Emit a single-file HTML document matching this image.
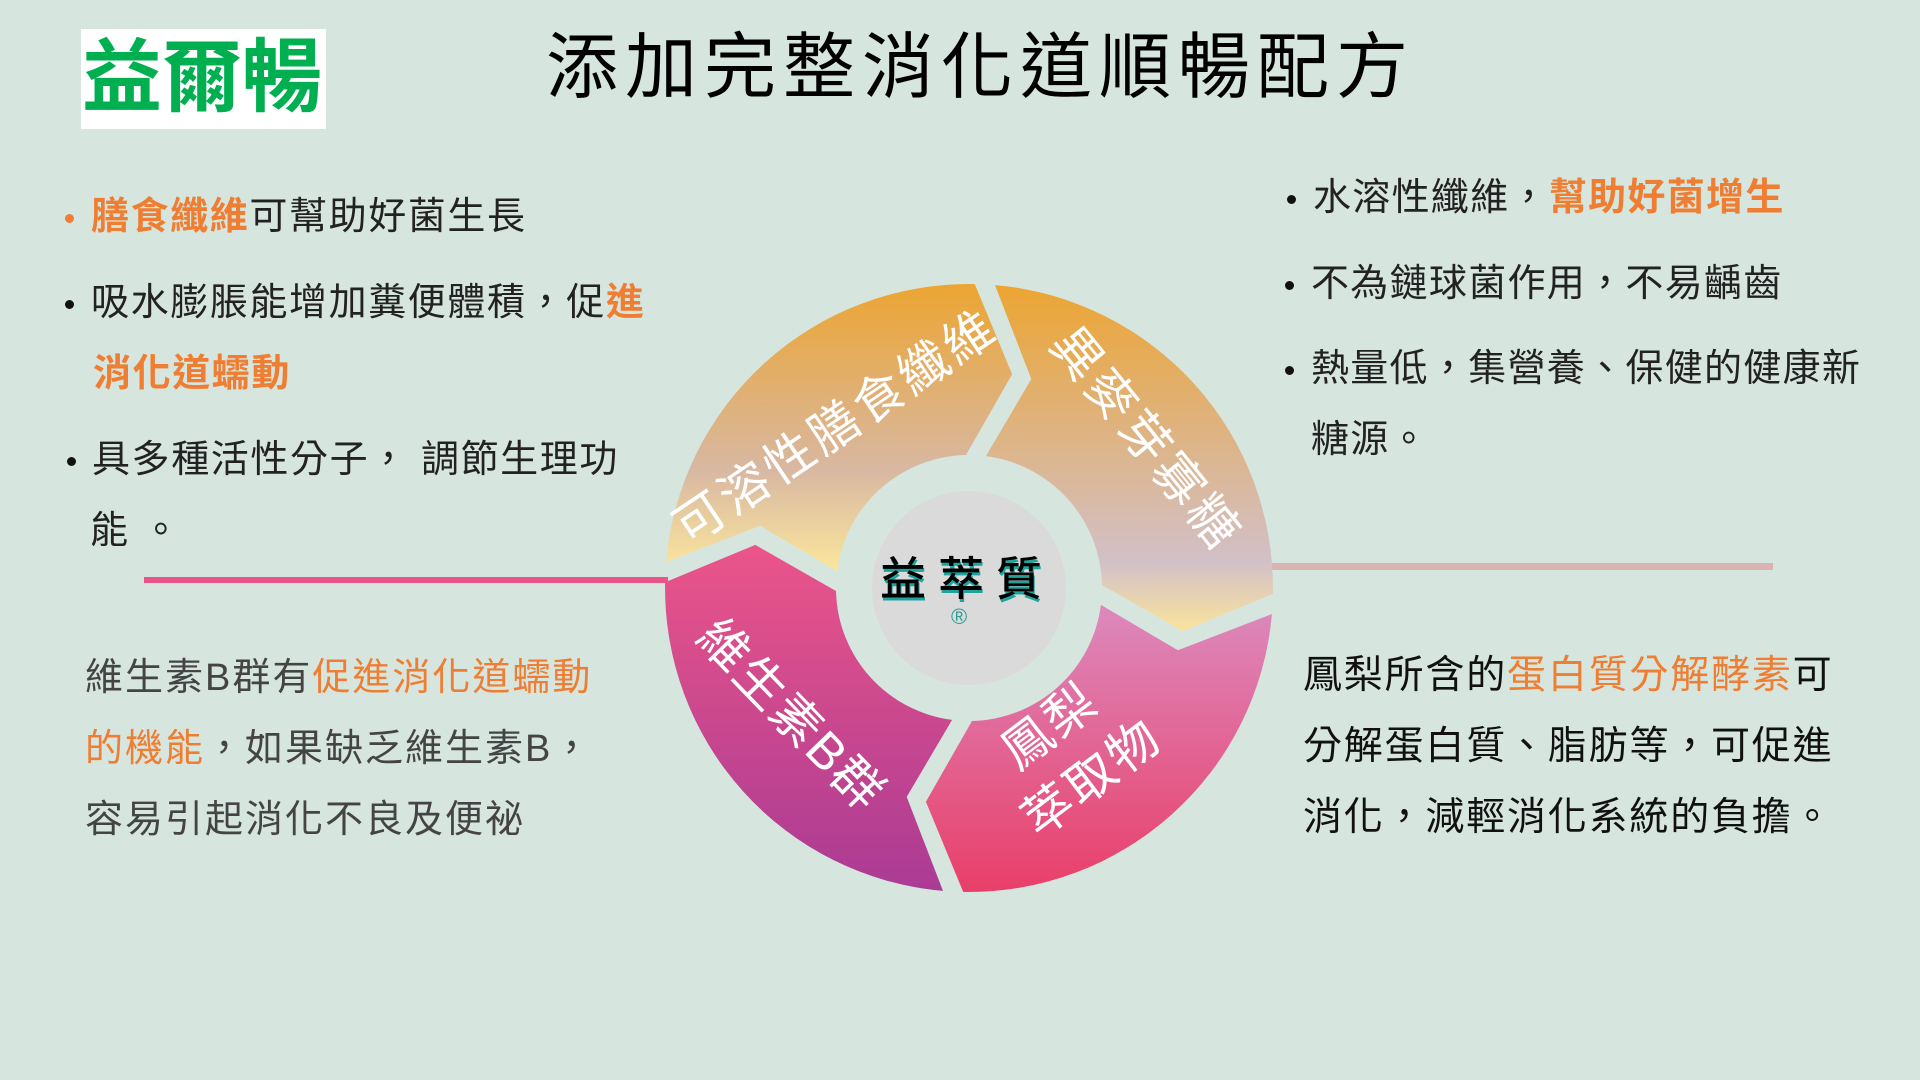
<!DOCTYPE html>
<html><head><meta charset="utf-8">
<style>
html,body{margin:0;padding:0;}
body{width:1920px;height:1080px;background:#d6e6df;position:relative;overflow:hidden;font-family:"Liberation Sans","Noto Sans CJK TC",sans-serif;}
.t{position:absolute;white-space:nowrap;line-height:1;}
.o{color:#ef7d32;}
.b{position:absolute;width:9px;height:9px;border-radius:50%;background:#111;}
</style></head><body>
<div style="position:absolute;left:81px;top:29px;width:245px;height:100px;background:#fff;"></div>
<div class="t" style="left:82px;top:38px;font-size:80px;font-weight:bold;color:#00b050;">益爾暢</div>
<div class="t" style="left:546px;top:32px;font-size:72px;color:#000;letter-spacing:7px;">添加完整消化道順暢配方</div>

<div class="b" style="left:65px;top:214px;background:#ef7d32;"></div>
<div class="t" style="left:91px;top:198px;font-size:38px;letter-spacing:1.6px;color:#222;"><span class="o" style="font-weight:bold">膳食纖維</span>可幫助好菌生長</div>
<div class="b" style="left:65px;top:300px;"></div>
<div class="t" style="left:91px;top:284px;font-size:38px;letter-spacing:1.6px;color:#222;">吸水膨脹能增加糞便體積，促<span class="o" style="font-weight:bold">進</span></div>
<div class="t o" style="left:93px;top:355px;font-size:38px;letter-spacing:1.6px;font-weight:bold;">消化道蠕動</div>
<div class="b" style="left:67px;top:457px;"></div>
<div class="t" style="left:92px;top:441px;font-size:38px;letter-spacing:1.6px;color:#222;">具多種活性分子， 調節生理功</div>
<div class="t" style="left:90px;top:512px;font-size:38px;letter-spacing:1.6px;color:#222;">能 。</div>

<div class="b" style="left:1287px;top:195px;"></div>
<div class="t" style="left:1313px;top:179px;font-size:38px;letter-spacing:1.3px;color:#222;">水溶性纖維，<span class="o" style="font-weight:bold">幫助好菌增生</span></div>
<div class="b" style="left:1285px;top:281px;"></div>
<div class="t" style="left:1311px;top:265px;font-size:38px;letter-spacing:1.3px;color:#222;">不為鏈球菌作用，不易齲齒</div>
<div class="b" style="left:1285px;top:366px;"></div>
<div class="t" style="left:1311px;top:350px;font-size:38px;letter-spacing:1.3px;color:#222;">熱量低，集營養、保健的健康新</div>
<div class="t" style="left:1311px;top:421px;font-size:38px;letter-spacing:1.3px;color:#222;">糖源。</div>

<div style="position:absolute;left:144px;top:577px;width:524px;height:6px;background:#e8558a;"></div>
<div style="position:absolute;left:1270px;top:563px;width:503px;height:7px;background:#d9b4b2;"></div>

<div class="t" style="left:85px;top:659px;font-size:38px;letter-spacing:2px;color:#444;">維生素B群有<span class="o">促進消化道蠕動</span></div>
<div class="t" style="left:85px;top:730px;font-size:38px;letter-spacing:2px;color:#444;"><span class="o">的機能</span>，如果缺乏維生素B，</div>
<div class="t" style="left:85px;top:801px;font-size:38px;letter-spacing:2px;color:#444;">容易引起消化不良及便祕</div>

<div class="t" style="left:1303px;top:656px;font-size:39px;letter-spacing:1.8px;color:#111;">鳳梨所含的<span class="o">蛋白質分解酵素</span>可</div>
<div class="t" style="left:1303px;top:727px;font-size:39px;letter-spacing:1.8px;color:#111;">分解蛋白質、脂肪等，可促進</div>
<div class="t" style="left:1303px;top:798px;font-size:39px;letter-spacing:1.8px;color:#111;">消化，減輕消化系統的負擔。</div>

<svg id="ring" width="1920" height="1080" style="position:absolute;left:0;top:0;">
<defs>
<linearGradient id="gTL" x1="0" y1="0" x2="0" y2="1"><stop offset="0" stop-color="#eca532"/><stop offset="0.65" stop-color="#d8b8a2"/><stop offset="1" stop-color="#fbe69c"/></linearGradient>
<linearGradient id="gTR" x1="0" y1="0" x2="0" y2="1"><stop offset="0" stop-color="#eca532"/><stop offset="0.8" stop-color="#d2c0c8"/><stop offset="1" stop-color="#fae39c"/></linearGradient>
<linearGradient id="gBL" x1="0" y1="0" x2="0" y2="1"><stop offset="0" stop-color="#eb5589"/><stop offset="1" stop-color="#aa3b94"/></linearGradient>
<linearGradient id="gBR" x1="0" y1="0" x2="0" y2="1"><stop offset="0" stop-color="#dc89bd"/><stop offset="1" stop-color="#e93f69"/></linearGradient>
</defs>
<path id="pTL" fill="url(#gTL)"/>
<path id="pTR" fill="url(#gTR)"/>
<path id="pBR" fill="url(#gBR)"/>
<path id="pBL" fill="url(#gBL)"/>
<circle cx="969" cy="588" r="97" fill="#dadada"/>
<g fill="#fff" font-family="Liberation Sans, Noto Sans CJK TC, sans-serif" font-size="50" text-anchor="middle" dominant-baseline="central">
<text transform="translate(836,427) rotate(-34)" letter-spacing="4">可溶性膳食纖維</text>
<text transform="translate(1146,439) rotate(51)" letter-spacing="4">異麥芽寡糖</text>
<text transform="translate(791,715) rotate(46)" letter-spacing="2">維生素B群</text>
<text transform="translate(1050,726) rotate(-37)" letter-spacing="3">鳳梨</text>
<text transform="translate(1092,778) rotate(-37)" letter-spacing="3">萃取物</text>
</g>
</svg>
<div class="t" style="left:880px;top:556px;font-size:46px;font-weight:500;letter-spacing:12px;color:#000;text-shadow:1px 3px 0 #1fa39c;">益萃質</div>
<div class="t" style="left:951px;top:606px;font-size:22px;color:#2a9d8f;">®</div>

<script>
(function(){
var cx=969,cy=588,R=304,r=133,rm=218;
function P(rad,deg){var a=deg*Math.PI/180;return (cx+rad*Math.sin(a)).toFixed(1)+','+(cy-rad*Math.cos(a)).toFixed(1);}
var go=1.9,gi=4.3,gm=2.6,tip=11;
function seg(A,B){
 return 'M'+P(R,A+go)+' A'+R+','+R+' 0 0 1 '+P(R,B-go)+' L'+P(rm,B-gm+tip)+' L'+P(r,B-gi)+
 ' A'+r+','+r+' 0 0 0 '+P(r,A+gi)+' L'+P(rm,A+gm+tip)+' Z';
}
document.getElementById('pTL').setAttribute('d',seg(273,363));
document.getElementById('pTR').setAttribute('d',seg(3,93));
document.getElementById('pBR').setAttribute('d',seg(93,183));
document.getElementById('pBL').setAttribute('d',seg(183,273));
})();
</script>
</body></html>
